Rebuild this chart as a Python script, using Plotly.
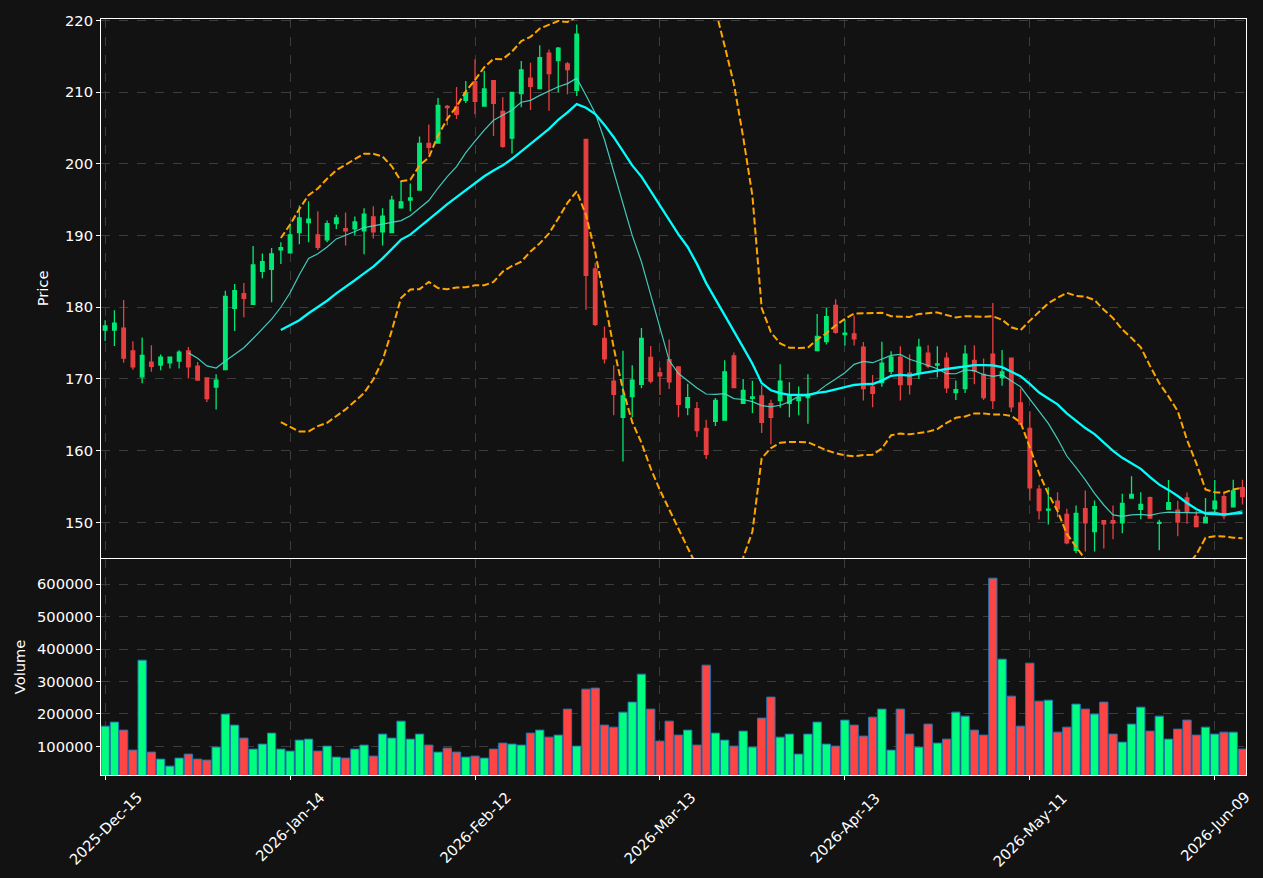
import plotly.graph_objects as go
from plotly.subplots import make_subplots
import pandas as pd
import numpy as np

tick_labels = ["2025-Dec-15", "2026-Jan-14", "2026-Feb-12", "2026-Mar-13",
               "2026-Apr-13", "2026-May-11", "2026-Jun-09"]
tick_positions = [0, 20, 40, 60, 80, 100, 120]

open_ = [176.8, 176.8, 177.1, 173.9, 170.3, 172.35, 171.95, 172.25, 172.5, 173.9,
         171.8, 170.15, 168.85, 171.3, 179.85, 181.9, 180.4, 185.0, 185.3, 188.0,
         187.6, 190.4, 191.8, 190.1, 189.4, 191.65, 190.95, 190.95, 190.65, 192.6,
         190.5, 190.4, 193.85, 194.95, 196.35, 202.85, 202.9, 208.0, 207.95, 208.85,
         211.45, 208.05, 211.6, 207.3, 203.6, 209.8, 211.95, 210.5, 215.45, 214.4,
         213.95, 210.25, 203.4, 185.35, 175.65, 169.7, 164.65, 167.55, 169.25, 173.0,
         170.85, 172.7, 171.7, 166.0, 165.85, 163.1, 164.1, 164.25, 173.2, 166.6,
         167.3, 167.65, 166.55, 167.0, 166.6, 167.0, 167.4, 173.95, 175.2, 180.25,
         176.2, 176.3, 174.45, 168.9, 169.5, 171.05, 173.05, 170.8, 170.85, 173.6,
         171.95, 172.9, 168.1, 168.65, 172.6, 170.65, 173.45, 170.2, 172.9, 166.65,
         163.1, 154.65, 151.7, 152.95, 151.1, 146.1, 151.9, 148.7, 150.25, 150.25,
         149.95, 153.4, 151.8, 153.45, 149.85, 151.8, 151.7, 153.4, 150.85, 149.95,
         151.9, 153.6, 152.15, 154.85]
high = [178.2, 179.6, 181.0, 175.25, 175.8, 174.7, 173.4, 173.05, 174.0, 174.45,
        172.35, 170.15, 170.65, 182.3, 183.25, 183.4, 188.55, 187.5, 188.25, 189.05,
        191.5, 194.2, 194.8, 193.4, 192.1, 192.9, 193.2, 192.65, 193.8, 194.1,
        193.8, 195.55, 197.5, 197.25, 203.8, 205.5, 209.2, 208.2, 210.7, 211.55,
        214.6, 213.0, 211.6, 209.3, 209.95, 214.35, 214.1, 216.55, 215.95, 216.3,
        214.2, 219.45, 203.4, 186.2, 177.3, 171.9, 173.95, 171.9, 177.1, 174.6,
        171.6, 175.5, 171.7, 169.35, 166.8, 164.3, 167.35, 172.6, 173.7, 170.0,
        169.75, 169.15, 167.1, 172.05, 169.55, 168.95, 170.65, 179.05, 179.9, 181.1,
        178.25, 178.8, 175.15, 170.55, 175.2, 173.85, 174.55, 173.45, 175.6, 174.7,
        174.55, 173.7, 169.8, 174.7, 174.7, 172.85, 180.6, 174.05, 172.9, 168.65,
        165.5, 155.2, 154.9, 154.2, 151.9, 152.35, 154.45, 153.05, 150.25, 152.35,
        154.0, 156.45, 154.2, 153.6, 150.35, 155.9, 153.0, 154.15, 151.6, 153.4,
        155.9, 154.05, 155.95, 155.95]
low = [175.3, 174.6, 172.25, 171.3, 169.4, 171.0, 171.2, 171.45, 171.45, 170.05,
       169.85, 166.8, 165.75, 171.3, 176.7, 178.6, 180.4, 184.05, 180.7, 186.05,
       187.6, 188.8, 189.05, 188.0, 189.05, 190.9, 188.6, 190.05, 187.4, 189.6,
       188.6, 190.4, 193.85, 193.4, 196.35, 201.35, 202.9, 205.4, 206.25, 208.5,
       206.9, 208.05, 203.9, 202.25, 201.45, 207.9, 207.5, 210.5, 207.4, 210.0,
       209.7, 209.45, 179.65, 177.4, 172.15, 164.95, 158.5, 164.65, 168.7, 169.4,
       167.75, 168.6, 164.65, 164.95, 161.9, 158.85, 163.45, 164.25, 168.8, 166.6,
       165.25, 162.45, 160.9, 166.0, 164.65, 164.95, 163.75, 173.95, 174.8, 176.3,
       174.65, 174.65, 167.0, 166.05, 168.9, 170.65, 167.0, 167.85, 170.0, 171.5,
       170.25, 168.05, 167.05, 168.05, 169.25, 167.05, 165.8, 169.05, 165.4, 163.7,
       153.0, 150.4, 149.7, 150.7, 146.95, 145.7, 145.95, 145.95, 146.35, 147.65,
       148.5, 153.4, 150.45, 150.5, 146.1, 151.8, 148.05, 149.8, 149.3, 149.95,
       151.4, 150.45, 152.15, 152.5]
close = [177.4, 177.8, 172.9, 171.7, 173.3, 171.75, 173.05, 173.05, 173.75, 171.7,
         169.85, 167.25, 169.85, 181.5, 182.3, 181.25, 185.9, 186.35, 187.45, 188.3,
         190.1, 192.45, 192.3, 188.35, 191.65, 192.45, 190.65, 191.9, 193.0, 190.5,
         192.7, 194.95, 194.7, 195.25, 202.85, 202.3, 208.15, 207.85, 206.9, 209.9,
         208.7, 210.45, 208.45, 202.45, 209.95, 213.1, 210.8, 214.8, 212.6, 216.15,
         213.15, 218.1, 184.45, 177.6, 172.8, 167.85, 167.65, 169.85, 175.65, 169.7,
         170.45, 169.6, 166.45, 167.4, 162.8, 159.5, 167.0, 171.0, 168.8, 168.4,
         167.5, 163.95, 164.65, 169.7, 167.65, 167.4, 167.85, 175.95, 178.7, 176.5,
         176.4, 175.6, 168.65, 168.0, 172.2, 173.05, 169.2, 169.2, 174.45, 171.8,
         172.1, 168.75, 168.5, 173.45, 171.1, 167.4, 167.0, 171.0, 166.1, 163.7,
         154.8, 151.65, 151.85, 151.9, 147.15, 151.25, 149.95, 152.2, 149.8, 149.9,
         152.65, 153.9, 152.5, 150.6, 150.0, 152.75, 150.05, 151.5, 149.4, 150.7,
         152.95, 150.9, 154.4, 153.6]
volume = [162600, 175000, 150300, 88700, 365900, 82500, 61000, 39400, 64100, 76400,
          61000, 57900, 97900, 199600, 165700, 125700, 91800, 107200, 141100, 91800,
          85600, 119500, 122600, 85600, 101000, 67100, 64100, 91800, 104100, 70200,
          138000, 125700, 178000, 122600, 138000, 104100, 82500, 94900, 82500, 67100,
          70200, 64100, 91800, 110300, 107200, 104100, 141100, 150300, 128700, 134900,
          215000, 101000, 276600, 279700, 165700, 159500, 205700, 236600, 322800, 215000,
          116400, 178000, 134900, 150300, 104100, 350500, 141100, 119500, 101000, 147200,
          97900, 187300, 252000, 128700, 138000, 76400, 138000, 175000, 107200, 101000,
          181100, 165700, 131800, 190300, 215000, 88700, 215000, 138000, 97900, 168800,
          110300, 122600, 205700, 193400, 150300, 134900, 618500, 369000, 255000, 162600,
          356700, 239600, 242700, 144100, 159500, 230400, 215000, 199600, 236600, 138000,
          113300, 168800, 221100, 147200, 193400, 122600, 153400, 181100, 134900, 159500,
          138000, 144100, 144100, 91800]

n = len(close)
x = list(range(n))
df = pd.DataFrame({"open": open_, "high": high, "low": low, "close": close, "volume": volume})
sma10 = df["close"].rolling(10).mean()
sma20 = df["close"].rolling(20).mean()
std20 = df["close"].rolling(20).std(ddof=0)
upper = sma20 + 2 * std20
lower = sma20 - 2 * std20

up = df["close"] >= df["open"]
vol_colors = ["#00ff7f" if u else "#ff4444" for u in up]

BG = "#121212"
GRID = "#3c3c3c"
FONT = dict(family="DejaVu Sans", size=14.7, color="white")

fig = make_subplots(rows=2, cols=1, shared_xaxes=True, vertical_spacing=0.0,
                    row_heights=[0.713, 0.287])

fig.add_trace(go.Candlestick(
    x=x, open=open_, high=high, low=low, close=close,
    increasing=dict(line=dict(color="#02e774", width=1.3), fillcolor="#02e774"),
    decreasing=dict(line=dict(color="#e73f3f", width=1.3), fillcolor="#e73f3f"),
    whiskerwidth=0, showlegend=False, hoverinfo="skip"), row=1, col=1)

fig.add_trace(go.Scatter(x=x, y=sma10, mode="lines",
                         line=dict(color="rgba(72,222,206,0.9)", width=1.2),
                         showlegend=False, hoverinfo="skip"), row=1, col=1)
fig.add_trace(go.Scatter(x=x, y=sma20, mode="lines",
                         line=dict(color="#00ffff", width=2.3),
                         showlegend=False, hoverinfo="skip"), row=1, col=1)
for band in (upper, lower):
    fig.add_trace(go.Scatter(x=x, y=band, mode="lines",
                             line=dict(color="#ffa500", width=2, dash="7px,3px"),
                             showlegend=False, hoverinfo="skip"), row=1, col=1)

fig.add_trace(go.Bar(x=x, y=volume, width=0.9,
                     marker=dict(color=vol_colors, line=dict(color="#1f77b4", width=1)),
                     showlegend=False, hoverinfo="skip"), row=2, col=1)

axis_common = dict(showline=True, linecolor="white", linewidth=1, mirror=True,
                   showgrid=True, gridcolor=GRID, griddash="dash", gridwidth=1,
                   zeroline=False, tickfont=FONT, tickcolor="white")

fig.update_xaxes(**axis_common, range=[-0.45, 123.38], tickvals=tick_positions,
                 ticktext=tick_labels, showticklabels=False)
fig.update_xaxes(ticks="", rangeslider=dict(visible=False), row=1, col=1)
fig.update_xaxes(ticks="outside", ticklen=4, row=2, col=1)

fig.update_yaxes(**axis_common, ticks="outside", ticklen=4)
fig.update_yaxes(range=[145.05, 220.2], tickvals=[150, 160, 170, 180, 190, 200, 210, 220],
                 title=dict(text="Price", font=FONT, standoff=12), row=1, col=1)
fig.update_yaxes(range=[12000, 678000],
                 tickvals=[100000, 200000, 300000, 400000, 500000, 600000],
                 ticktext=["100000", "200000", "300000", "400000", "500000", "600000"],
                 title=dict(text="Volume", font=FONT, standoff=7), row=2, col=1)

# Rotated date labels centred under their ticks (matplotlib-style ha='center')
for pos, lab in zip(tick_positions, tick_labels):
    fig.add_annotation(x=pos, xref="x2", y=0, yref="paper", text=lab,
                       textangle=-45, showarrow=False, xanchor="center", yanchor="top",
                       yshift=-11, font=FONT)

fig.update_layout(
    width=1263, height=878,
    margin=dict(l=101, r=17, t=16, b=103),
    paper_bgcolor=BG, plot_bgcolor=BG,
    font=FONT, boxgap=0.45, bargap=0.1,
    showlegend=False,
)
fig.layout.yaxis.domain = [0.2872, 1.0]
fig.layout.yaxis2.domain = [0.0, 0.2859]

fig.write_html("out.html")
